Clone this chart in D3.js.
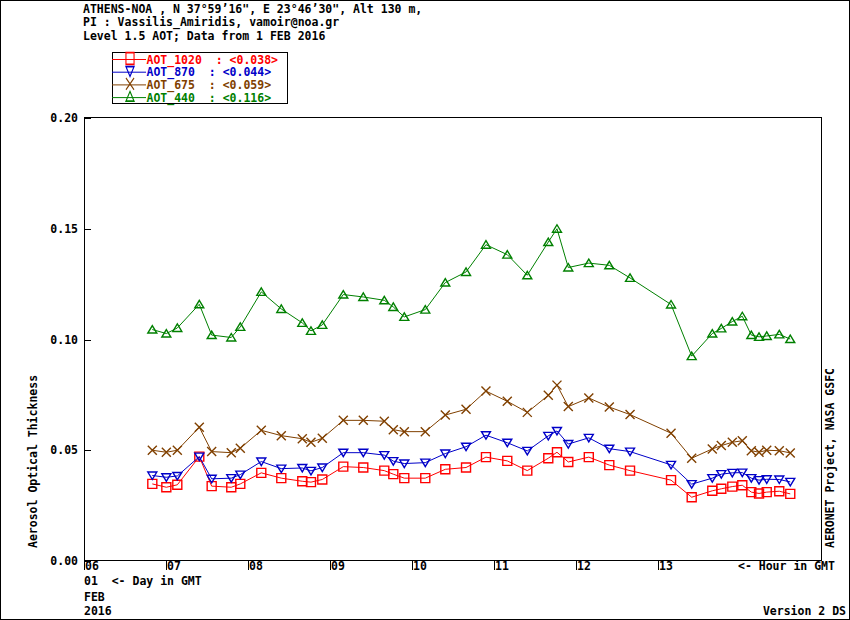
<!DOCTYPE html>
<html>
<head>
<meta charset="utf-8">
<script src="https://cdn.jsdelivr.net/npm/d3@7"></script>
<style>
  body { margin: 0; background: #fff; }
  text { font-family: "DejaVu Sans Mono", monospace; font-size: 11.5px; font-weight: bold; white-space: pre; }
</style>
</head>
<body>
<svg id="chart" width="850" height="620"></svg>
<script>
// times of the measurements, decimal hour GMT on 01 FEB 2016
var hours = [6.833, 7.004, 7.138, 7.406, 7.557, 7.796, 7.906, 8.162, 8.406, 8.662, 8.768, 8.906,
    9.162, 9.406, 9.662, 9.772, 9.906, 10.162, 10.406, 10.659, 10.902, 11.162, 11.406, 11.662,
    11.768, 11.906, 12.156, 12.406, 12.659, 13.159, 13.411, 13.662, 13.772, 13.906, 14.028,
    14.138, 14.232, 14.326, 14.479, 14.613];

var aot_1020 = [0.0348, 0.0333, 0.0344, 0.0471, 0.0338, 0.0333, 0.0348, 0.0398, 0.0374, 0.0360, 0.0356, 0.0368,
    0.0426, 0.0422, 0.0408, 0.0392, 0.0374, 0.0374, 0.0414, 0.0422, 0.0469, 0.0452, 0.0408, 0.0464,
    0.0491, 0.0447, 0.0469, 0.0433, 0.0408, 0.0365, 0.0288, 0.0317, 0.0326, 0.0336, 0.0342,
    0.0311, 0.0305, 0.0311, 0.0315, 0.0303];
var aot_870 = [0.0386, 0.0378, 0.0384, 0.0471, 0.0371, 0.0374, 0.0390, 0.0449, 0.0417, 0.0420, 0.0407, 0.0422,
    0.0489, 0.0489, 0.0478, 0.0451, 0.0440, 0.0444, 0.0485, 0.0516, 0.0568, 0.0534, 0.0497, 0.0565,
    0.0587, 0.0528, 0.0556, 0.0507, 0.0494, 0.0434, 0.0347, 0.0374, 0.0392, 0.0398, 0.0399,
    0.0374, 0.0365, 0.0369, 0.0368, 0.0357];
var aot_675 = [0.0500, 0.0491, 0.0500, 0.0604, 0.0494, 0.0489, 0.0509, 0.0590, 0.0566, 0.0552, 0.0536, 0.0554,
    0.0635, 0.0635, 0.0631, 0.0593, 0.0584, 0.0584, 0.0659, 0.0685, 0.0767, 0.0721, 0.0671, 0.0748,
    0.0794, 0.0697, 0.0736, 0.0695, 0.0661, 0.0577, 0.0464, 0.0506, 0.0521, 0.0536, 0.0543,
    0.0498, 0.0491, 0.0500, 0.0498, 0.0488];
var aot_440 = [0.1045, 0.1027, 0.1052, 0.1159, 0.1020, 0.1009, 0.1057, 0.1215, 0.1138, 0.1075, 0.1039, 0.1066,
    0.1203, 0.1192, 0.1177, 0.1147, 0.1102, 0.1135, 0.1257, 0.1305, 0.1428, 0.1383, 0.1290, 0.1440,
    0.1500, 0.1325, 0.1345, 0.1335, 0.1278, 0.1158, 0.0925, 0.1027, 0.1050, 0.1081, 0.1105,
    0.1020, 0.1012, 0.1016, 0.1023, 0.1002];

var series_names = ['AOT_1020', 'AOT_870', 'AOT_675', 'AOT_440'];
var series_means = ['0.038', '0.044', '0.059', '0.116'];
var hour_ticks = [6, 7, 8, 9, 10, 11, 12, 13];
var aot_ticks = [0.00, 0.05, 0.10, 0.15, 0.20];
var header_lines = [
    'ATHENS-NOA , N 37\u00b059\u201916", E 23\u00b046\u201930", Alt 130 m,',
    'PI : Vassilis_Amiridis, vamoir@noa.gr',
    'Level 1.5 AOT; Data from 1 FEB 2016'
];

var colors = ['#ff0000', '#0000c8', '#804000', '#008000'];
var all_series = [aot_1020, aot_870, aot_675, aot_440];

// marker shapes: square, down triangle, cross, up triangle
var markers = [
    'M-4.5,-4.5h9v9h-9Z',
    'M-4.5,-3.5L4.5,-3.5L0,4Z',
    'M-4.5,-4.5L4.5,4.5M-4.5,4.5L4.5,-4.5',
    'M0,-4L4.5,3.5L-4.5,3.5Z'
];

var svg = d3.select('#chart');

svg.append('rect')
    .attr('x', 0.5).attr('y', 0.5)
    .attr('width', 849).attr('height', 619)
    .attr('fill', 'none').attr('stroke', '#000')
    .attr('shape-rendering', 'crispEdges');

var x = d3.scaleLinear().domain([6, 15]).range([84, 822]);
var y = d3.scaleLinear().domain([0, 0.2]).range([561, 118]);

// header
svg.selectAll('text.header').data(header_lines).enter()
    .append('text')
    .attr('class', 'header')
    .attr('x', 83)
    .attr('y', function(d, i) { return 13 + i * 13.3; })
    .text(function(d) { return d; });

// plot frame
svg.append('rect')
    .attr('x', 84.5).attr('y', 117.5)
    .attr('width', 737).attr('height', 443)
    .attr('fill', 'none').attr('stroke', '#000')
    .attr('shape-rendering', 'crispEdges');

// y axis, ticks point inward
var yAxis = d3.axisRight(y).tickValues(aot_ticks).tickSize(6).tickFormat('');
var yg = svg.append('g').attr('transform', 'translate(84.5,0)').call(yAxis);
yg.select('.domain').remove();
yg.selectAll('line').attr('shape-rendering', 'crispEdges');

svg.selectAll('text.ylab').data(aot_ticks).enter()
    .append('text')
    .attr('class', 'ylab')
    .attr('x', 78)
    .attr('y', function(d) { return y(d) + 4; })
    .attr('text-anchor', 'end')
    .text(d3.format('.2f'));

// x axis, ticks point down, labels right of tick
var xAxis = d3.axisBottom(x).tickValues(hour_ticks).tickSize(9).tickFormat('');
var xg = svg.append('g').attr('transform', 'translate(0,560.5)').call(xAxis);
xg.select('.domain').remove();
xg.selectAll('line').attr('shape-rendering', 'crispEdges');

svg.selectAll('text.xlab').data(hour_ticks).enter()
    .append('text')
    .attr('class', 'xlab')
    .attr('x', function(d) { return x(d) + 1; })
    .attr('y', 570)
    .text(function(d) { return d3.format('02d')(d); });

svg.append('text').attr('x', 738).attr('y', 570).text('<- Hour in GMT');
svg.append('text').attr('x', 84).attr('y', 585).text('01  <- Day in GMT');
svg.append('text').attr('x', 84).attr('y', 601).text('FEB');
svg.append('text').attr('x', 84).attr('y', 615).text('2016');
svg.append('text').attr('x', 846).attr('y', 615).attr('text-anchor', 'end').text('Version 2 DS');

svg.append('text')
    .attr('transform', 'translate(37,548) rotate(-90)')
    .text('Aerosol Optical Thickness');
svg.append('text')
    .attr('transform', 'translate(834,548) rotate(-90)')
    .text('AERONET Project, NASA GSFC');

// data lines and markers
var line = d3.line()
    .x(function(d) { return x(d.h); })
    .y(function(d) { return y(d.v); });

all_series.forEach(function(vals, k) {
    var pts = hours.map(function(h, i) { return {h: h, v: vals[i]}; });
    svg.append('path')
        .datum(pts)
        .attr('d', line)
        .attr('fill', 'none')
        .attr('stroke', colors[k])
        .attr('stroke-width', 1);
    svg.append('g').selectAll('path').data(pts).enter()
        .append('path')
        .attr('transform', function(d) { return 'translate(' + x(d.h) + ',' + y(d.v) + ')'; })
        .attr('d', markers[k])
        .attr('fill', 'none')
        .attr('stroke', colors[k])
        .attr('stroke-width', 1.4);
});

// legend
svg.append('rect')
    .attr('x', 112.5).attr('y', 52.5)
    .attr('width', 175).attr('height', 51)
    .attr('fill', 'none').attr('stroke', '#000')
    .attr('shape-rendering', 'crispEdges');

var leg = svg.selectAll('g.leg').data(series_names).enter()
    .append('g')
    .attr('class', 'leg')
    .attr('transform', function(d, i) { return 'translate(0,' + (59.5 + i * 12.7) + ')'; });
leg.append('line')
    .attr('x1', 112).attr('x2', 146)
    .attr('stroke', function(d, i) { return colors[i]; });
leg.append('path')
    .attr('transform', 'translate(130,-1) scale(0.9,1.3)')
    .attr('d', function(d, i) { return markers[i]; })
    .attr('fill', 'none')
    .attr('stroke', function(d, i) { return colors[i]; })
    .attr('stroke-width', 1.2);
leg.append('text')
    .attr('x', 146.5)
    .attr('y', 4)
    .attr('fill', function(d, i) { return colors[i]; })
    .text(function(d, i) {
        return d + '  : <' + series_means[i] + '>';
    });
</script>
</body>
</html>
